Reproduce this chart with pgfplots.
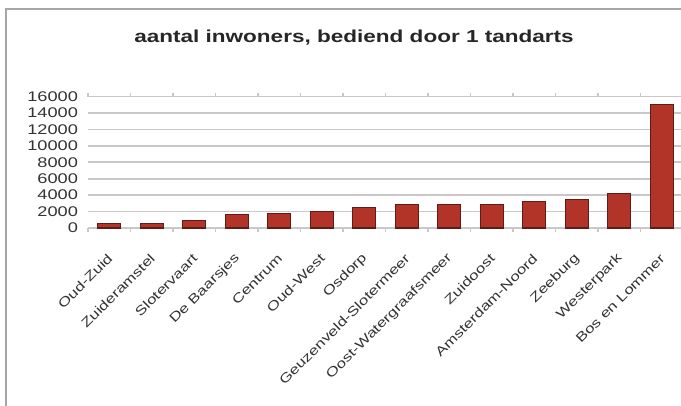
\documentclass[border=0pt]{standalone}
\usepackage{fontspec}
\setmainfont{Liberation Sans}[FakeStretch=1.3]
\usepackage{pgfplots}
\pgfplotsset{compat=1.18}
\definecolor{barfill}{RGB}{178,52,40}
\definecolor{barline}{RGB}{95,28,22}
\definecolor{gridgray}{RGB}{200,200,200}
\begin{document}
\begin{tikzpicture}
\useasboundingbox (-66pt,-132.75pt) rectangle (444.75pt,171pt);
\draw[gray!70, line width=0.9pt] (-61.5pt,164.25pt) rectangle (459pt,-144pt);
\node[font=\fontsize{13pt}{15pt}\selectfont\bfseries, text=black!85] at (199.5pt,142.5pt) {aantal inwoners, bediend door 1 tandarts};
\begin{axis}[
  at={(0,0)}, anchor=south west,
  scale only axis,
  width=446.25pt, height=98.6pt,
  xmin=-0.5, xmax=13.5,
  ymin=0, ymax=16000,
  ytick={0,2000,...,16000},
  scaled y ticks=false,
  xtick={0,...,13},
  xticklabels={Oud-Zuid,Zuideramstel,Slotervaart,De Baarsjes,Centrum,Oud-West,Osdorp,Geuzenveld-Slotermeer,Oost-Watergraafsmeer,Zuidoost,Amsterdam-Noord,Zeeburg,Westerpark,Bos en Lommer},
  minor xtick={-0.5,0.5,...,13.5},
  major tick length=0pt,
  minor tick length=3pt,
  tick align=outside,
  minor tick style={gridgray, line width=0.8pt},
  axis line style={draw=none},
  ymajorgrids,
  grid style={gridgray, line width=1.3pt},
  /pgf/number format/1000 sep={},
  /pgf/number format/assume math mode=true,
  yticklabel style={font=\fontsize{10.5pt}{10.5pt}\selectfont, text=black!80, xshift=-4pt},
  xticklabel style={font=\fontsize{9.75pt}{10pt}\selectfont, text=black!80, xshift=3pt, yshift=-18.75pt, rotate=45, anchor=east},
  clip=false,
]
\addplot[ybar, bar width=17.25pt, fill=barfill, draw=barline, line width=0.8pt] coordinates {
  (0,600) (1,600) (2,970) (3,1650) (4,1730) (5,2050) (6,2450) (7,2850) (8,2850) (9,2850) (10,3210) (11,3500) (12,4220) (13,15000)
};
\end{axis}
\end{tikzpicture}
\end{document}
